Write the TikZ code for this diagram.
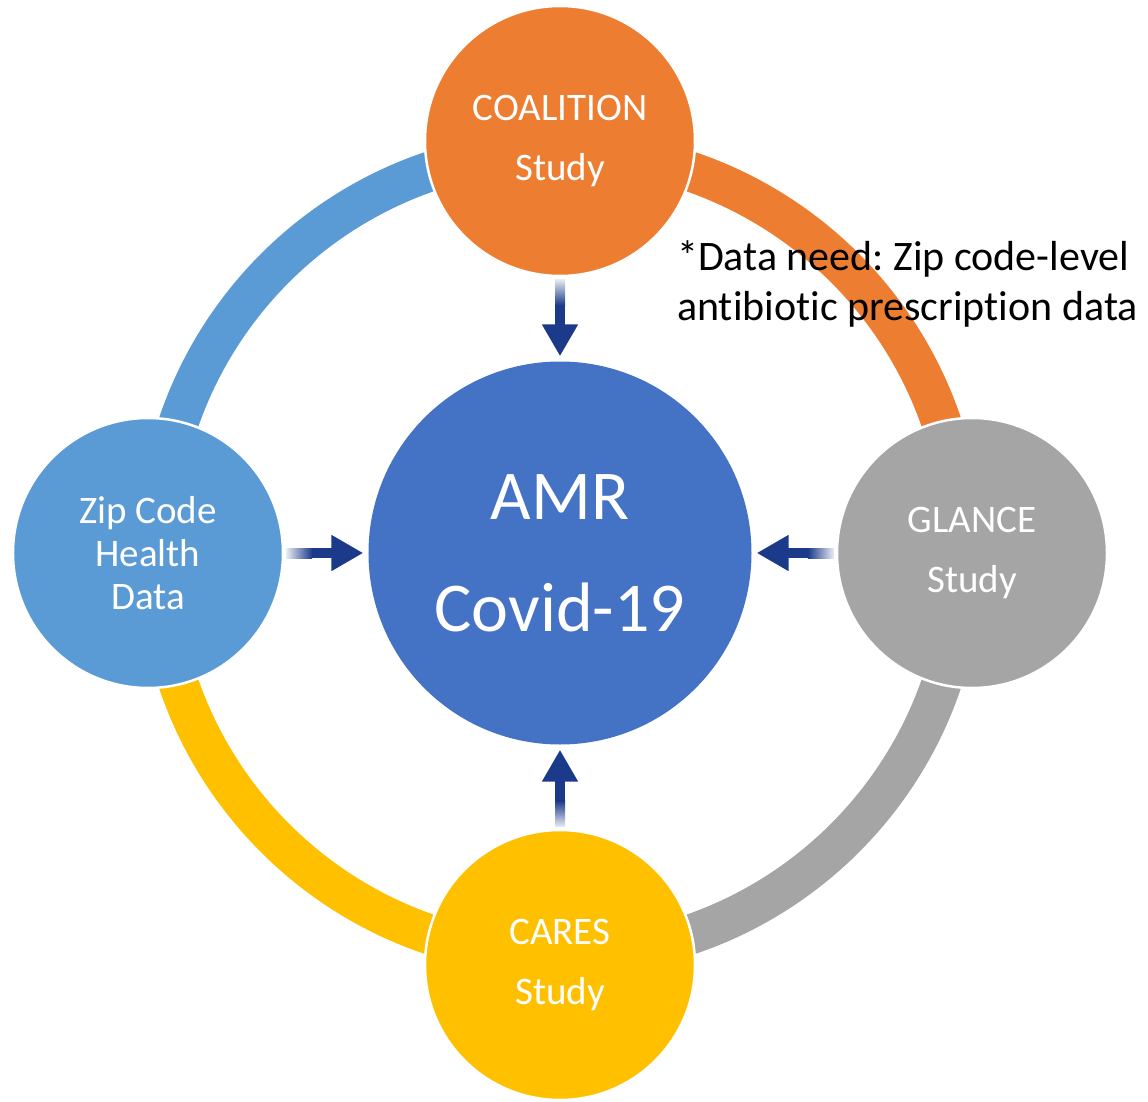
\documentclass[tikz,border=0pt]{standalone}
\usepackage{fontspec}
\setmainfont{Carlito}[Ligatures=NoCommon]
\usetikzlibrary{arrows.meta,calc}
\definecolor{coalorange}{HTML}{ED7D31}
\definecolor{zipblue}{HTML}{5B9BD5}
\definecolor{amrblue}{HTML}{4472C4}
\definecolor{glancegray}{HTML}{A5A5A5}
\definecolor{caresyellow}{HTML}{FFC000}
\definecolor{arrowblue}{RGB}{27,58,138}
\frenchspacing
\begin{document}
\begin{tikzpicture}[x=1pt, y=1pt,
    ring/.style={line width=40pt},
    sat/.style={circle, draw=white, line width=2.5pt, minimum size=270pt, inner sep=0pt,
      text=white, align=center, font=\fontsize{39}{60}\selectfont},
    hub/.style={circle, fill=amrblue, minimum size=383pt, inner sep=0pt,
      text=white, align=center, font=\fontsize{70}{112}\selectfont},
    flow/.style={line width=10pt, arrowblue, -{Triangle[length=32pt, width=34pt]},
      shorten <=3pt, shorten >=5pt}]
  \useasboundingbox (-560,-548) rectangle (588,553);
  % outer ring
  \draw[ring, zipblue] (180:403) arc[start angle=180, end angle=90, radius=403];
  \draw[ring, coalorange] (90:403) arc[start angle=90, end angle=0, radius=403];
  \draw[ring, glancegray] (0:403) arc[start angle=0, end angle=-90, radius=403];
  \draw[ring, caresyellow] (-90:403) arc[start angle=-90, end angle=-180, radius=403];
  \draw
    (0,0) node[hub] (amr) {AMR\\Covid-19}
    (90:412) node[sat, fill=coalorange] (coalition) {COALITION\\Study}
    (0:412) node[sat, fill=glancegray] (glance) {GLANCE\\Study}
    (-90:412) node[sat, fill=caresyellow] (cares) {CARES\\Study}
    (180:412) node[sat, fill=zipblue, font=\fontsize{39}{43}\selectfont] (zip) {Zip Code\\Health\\Data};
  \begin{scope}[flow]
    \draw (coalition) to (amr);
    \draw (glance) to (amr);
    \draw (cares) to (amr);
    \draw (zip) to (amr);
  \end{scope}
  % faded tails
  \shade[top color=arrowblue!10, bottom color=arrowblue] ($(coalition.south)+(-5,-2)$) rectangle ($(coalition.south)+(5,-28)$);
  \shade[bottom color=arrowblue!10, top color=arrowblue] ($(cares.north)+(-5,2)$) rectangle ($(cares.north)+(5,28)$);
  \shade[left color=arrowblue!10, right color=arrowblue] ($(zip.east)+(2,-5)$) rectangle ($(zip.east)+(28,5)$);
  \shade[right color=arrowblue!10, left color=arrowblue] ($(glance.west)+(-28,-5)$) rectangle ($(glance.west)+(-2,5)$);
  \node[anchor=base west, align=left, inner sep=0pt, font=\fontsize{42}{50}\selectfont] (need) at (117,233)
    {*Data need: Zip code-level\\antibiotic prescription data};
\end{tikzpicture}
\end{document}
